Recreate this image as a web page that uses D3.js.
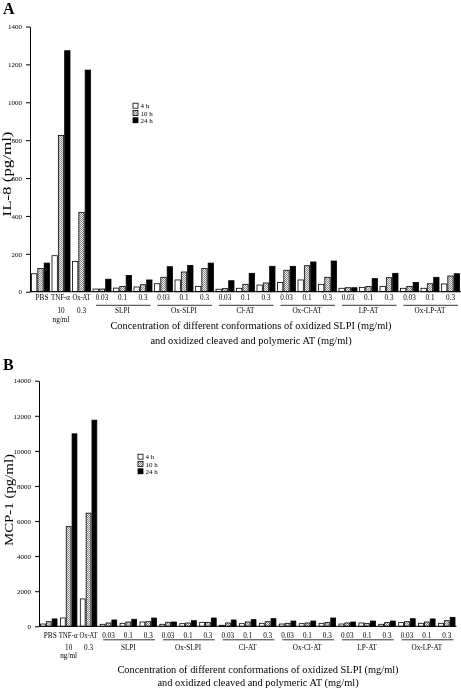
<!DOCTYPE html>
<html><head><meta charset="utf-8">
<script src="https://cdn.jsdelivr.net/npm/d3@7"></script>
<style>body{margin:0;background:#fff}svg{display:block;font-family:"Liberation Serif","Times New Roman",serif;will-change:transform}</style>
</head><body><svg id="c" width="461" height="688"></svg>
<script>
const groups = ["PBS","TNF","OxAT","SLPI-0.03","SLPI-0.1","SLPI-0.3","OxSLPI-0.03","OxSLPI-0.1","OxSLPI-0.3","ClAT-0.03","ClAT-0.1","ClAT-0.3","OxClAT-0.03","OxClAT-0.1","OxClAT-0.3","LPAT-0.03","LPAT-0.1","LPAT-0.3","OxLPAT-0.03","OxLPAT-0.1","OxLPAT-0.3"];
const row1Labels = ["PBS","TNF-α","Ox-AT","0.03","0.1","0.3","0.03","0.1","0.3","0.03","0.1","0.3","0.03","0.1","0.3","0.03","0.1","0.3","0.03","0.1","0.3"];
const row2Labels = ["10","0.3"]; // under TNF-α and Ox-AT
const unitLabel = "ng/ml";
const sets = ["SLPI","Ox-SLPI","Cl-AT","Ox-Cl-AT","LP-AT","Ox-LP-AT"];
const series = ["4 h","10 h","24 h"];

const il8_4h  = [95,190,160,14,19,25,42,62,27,13,18,35,49,62,39,18,23,28,18,18,41];
const il8_10h = [122,825,419,14,28,37,76,104,123,16,39,46,113,137,76,21,28,74,28,42,83];
const il8_24h = [151,1272,1170,66,86,62,132,139,151,58,97,134,134,157,162,21,69,97,49,76,95];

const mcp_4h  = [130,474,1560,114,170,245,114,150,228,57,150,170,130,150,170,130,190,114,210,170,170];
const mcp_10h = [263,5680,6450,190,245,263,228,190,228,190,245,263,170,190,210,190,170,210,263,245,320];
const mcp_24h = [420,10970,11750,360,400,470,245,320,474,360,380,435,300,300,474,245,300,300,435,420,510];

const ticksA = [0,200,400,600,800,1000,1200,1400];
const ticksB = [0,2000,4000,6000,8000,10000,12000,14000];

const svg = d3.select("#c");
const defs = svg.append("defs");
const pat = defs.append("pattern").attr("id","hatch").attr("patternUnits","userSpaceOnUse").attr("width",2).attr("height",2);
pat.append("rect").attr("width",2).attr("height",2).attr("fill","#ececec");
pat.append("rect").attr("width",1).attr("height",1).attr("fill","#8a8a8a");
pat.append("rect").attr("x",1).attr("y",1).attr("width",1).attr("height",1).attr("fill","#8a8a8a");
const fills = ["#fff","url(#hatch)","#000"];
const firstLens = [13,19,18], firstShift = [1.5,-0.5,0];

function panel(cfg){
  const g = svg.append("g");
  const x = d3.scaleBand().domain(groups).range([cfg.x0, cfg.x1]).paddingInner(cfg.pad).paddingOuter(0);
  const xs = d3.scaleBand().domain(series).range([0, x.bandwidth()]);
  const y = d3.scaleLinear().domain([0, cfg.max]).range([cfg.y0, cfg.y1]);
  const data = cfg.vals;
  groups.forEach((gr,i)=>{
    series.forEach((s,j)=>{
      const v = data[j][i];
      g.append("rect").attr("x", x(gr)+xs(s)+0.5).attr("y", y(v))
        .attr("width", xs.bandwidth()-1).attr("height", Math.max(0, y(0)-y(v)))
        .attr("fill", fills[j]).attr("stroke","#000").attr("stroke-width",0.8);
    });
  });
  const ax = g.append("g").attr("transform",`translate(${cfg.ax},0)`)
    .call(d3.axisLeft(y).tickValues(cfg.ticks).tickSize(4).tickSizeOuter(0).tickFormat(d3.format("d")));
  ax.selectAll("text").attr("font-size",7).attr("font-family","Liberation Serif").attr("fill","#000").attr("dx",-1);
  ax.selectAll("line,path").attr("stroke","#000");
  g.append("line").attr("x1",cfg.ax).attr("x2",cfg.x1+1).attr("y1",y(0)).attr("y2",y(0)).attr("stroke","#000");
  const fs = 7.2, o = cfg.off;
  groups.forEach((gr,i)=>{
    const t = g.append("text").attr("x", x(gr)+x.bandwidth()/2 + (i<3?firstShift[i]:0)).attr("y", y(0)+o[0])
      .attr("text-anchor","middle").attr("font-size",fs).text(row1Labels[i]);
    if(i<3) t.attr("textLength",firstLens[i]).attr("lengthAdjust","spacingAndGlyphs");
  });
  g.append("text").attr("x", x("TNF")+x.bandwidth()/2).attr("y", y(0)+o[1]).attr("text-anchor","middle").attr("font-size",fs).text(row2Labels[0]);
  g.append("text").attr("x", x("OxAT")+x.bandwidth()/2).attr("y", y(0)+o[1]).attr("text-anchor","middle").attr("font-size",fs).text(row2Labels[1]);
  g.append("text").attr("x", x("TNF")+x.bandwidth()/2).attr("y", y(0)+o[2]).attr("text-anchor","middle").attr("font-size",fs).text(unitLabel);
  sets.forEach((s,k)=>{
    const a = x(groups[3+3*k]), b = x(groups[5+3*k]) + x.bandwidth();
    g.append("line").attr("x1",a+3.5).attr("x2",b-2).attr("y1",y(0)+o[3]).attr("y2",y(0)+o[3]).attr("stroke","#000").attr("stroke-width",0.8);
    g.append("text").attr("x",(a+b)/2).attr("y",y(0)+o[1]).attr("text-anchor","middle").attr("font-size",fs).text(s);
  });
  g.append("text").attr("x",cfg.tx).attr("y",y(0)+o[4]).attr("text-anchor","middle").attr("font-size",10.4)
    .text("Concentration of different conformations of oxidized SLPI (mg/ml)");
  g.append("text").attr("x",cfg.tx).attr("y",y(0)+o[5]).attr("text-anchor","middle").attr("font-size",10.4)
    .text("and oxidized cleaved and polymeric AT (mg/ml)");
  g.append("text").attr("transform",`translate(${cfg.ylx},${cfg.yly}) rotate(-90)`).attr("text-anchor","middle")
    .attr("font-size",11.5).attr("textLength",cfg.ylen).attr("lengthAdjust","spacingAndGlyphs").text(cfg.ylabel);
  g.append("text").attr("x",3).attr("y",cfg.ly).attr("font-size",16).attr("font-weight","bold").text(cfg.letter);
  series.forEach((s,j)=>{
    g.append("rect").attr("x",cfg.lgx).attr("y",cfg.lgy+j*7.3-2.5).attr("width",5).attr("height",5)
      .attr("fill",fills[j]).attr("stroke","#000").attr("stroke-width",0.8);
    g.append("text").attr("x",cfg.lgx+7.5).attr("y",cfg.lgy+j*7.3+2.5).attr("font-size",7).text(s);
  });
}

panel({vals:[il8_4h,il8_10h,il8_24h], max:1400, ticks:ticksA, x0:31, x1:460, pad:0.073, ax:30,
  y0:291.7, y1:26.5, tx:251, ylx:10.5, yly:174, ylen:85, ylabel:"IL-8 (pg/ml)", letter:"A", ly:13.5, lgx:133, lgy:105.7,
  off:[8.6,21.5,30,13.6,37,52]});
panel({vals:[mcp_4h,mcp_10h,mcp_24h], max:14000, ticks:ticksB, x0:40, x1:455.5, pad:0.12, ax:39,
  y0:626.3, y1:380.7, tx:258, ylx:13, yly:500, ylen:92, ylabel:"MCP-1 (pg/ml)", letter:"B", ly:370, lgx:138, lgy:456.7,
  off:[11.7,24,31.7,13.5,46.7,59.4]});
</script></body></html>
